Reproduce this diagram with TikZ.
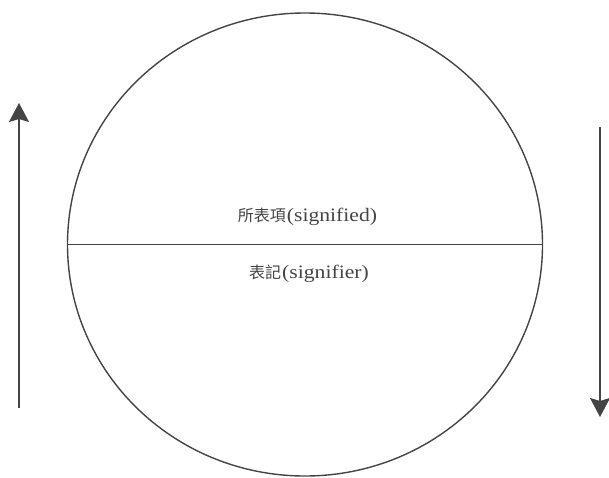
\documentclass[tikz,border=0pt]{standalone}
\usepackage{fontspec}
\setmainfont[FakeStretch=1.14]{Liberation Serif}
\newfontfamily\cjk{Noto Sans CJK TC}
\usetikzlibrary{arrows.meta,shapes.geometric}
\definecolor{ink}{HTML}{444444}
\newcommand{\cjkpart}[1]{{\fontsize{16}{19}\selectfont\cjk #1}}
\tikzset{
  outline/.style={draw=ink, line width=1.4pt},
  label/.style={inner sep=0pt, text=ink, font=\fontsize{19}{22}\selectfont},
  flow/.style={draw=ink, line width=1.5pt, -{Stealth[length=19pt,width=20pt,inset=3pt]}}
}
\begin{document}
\begin{tikzpicture}[x=1pt,y=-1pt]
\useasboundingbox (0,0) rectangle (609,477);
\node[outline, ellipse, minimum width=475pt, minimum height=463pt, inner sep=0pt, outer sep=0pt] (c) at (305,244.5) {};
\draw[outline] (c.west) -- (c.east);
\node[label] (top) at (307.5,217) {\cjkpart{所表項}\kern1pt(signified)};
\node[label] (bot) at (309,274) {\cjkpart{表記}\kern1pt(signifier)};
\coordinate (l0) at (19,408);
\coordinate (l1) at (19,103);
\coordinate (r0) at (600,127);
\coordinate (r1) at (600,417);
\draw[flow] (l0) -- (l1);
\draw[flow] (r0) -- (r1);
\end{tikzpicture}
\end{document}
